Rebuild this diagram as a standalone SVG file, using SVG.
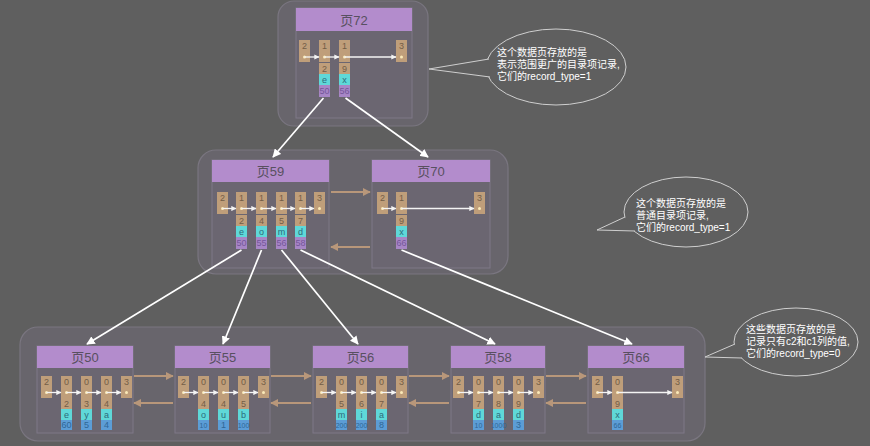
<svg xmlns="http://www.w3.org/2000/svg" width="870" height="446" viewBox="0 0 870 446">
<defs>
<style>
.grp{fill:#68656c;stroke:#7a7680;stroke-width:1.2}
.pg{fill:#6b6671;stroke:#7e7987;stroke-width:1}
.ttl{fill:#b38ccc}
.tt{font-family:"Liberation Sans","Noto Sans CJK SC",sans-serif;font-size:13px;fill:#585060;text-anchor:middle}
.t{fill:#bf9e7a}
.c{fill:#5fd8d8}
.p{fill:#a786c6}
.b{fill:#5c9dd6}
.ct{font-family:"Liberation Sans",sans-serif;font-size:9px;text-anchor:middle}
.tn{fill:#735d47}
.cn{fill:#2c6b7a}
.pn{fill:#74579a}
.bn{fill:#2f6796}
.sm{font-size:7px}
.dot{fill:#fbe9b8}
.ia{stroke:#f4f4f4;stroke-width:1.3;fill:none;marker-end:url(#ia)}
.wa{stroke:#ffffff;stroke-width:1.7;fill:none;marker-end:url(#wa)}
.ta{stroke:#b8977a;stroke-width:2;fill:none;marker-end:url(#ta)}
.bub{fill:#5f5f5f;stroke:#cfcfcf;stroke-width:1}
.bt{font-family:"Liberation Sans","Noto Sans CJK SC",sans-serif;font-size:10px;fill:#ffffff}
</style>
<marker id="ia" viewBox="0 0 10 10" refX="9" refY="5" markerWidth="4" markerHeight="4" orient="auto" markerUnits="strokeWidth"><path d="M0,0 L10,5 L0,10 z" fill="#f4f4f4"/></marker>
<marker id="wa" viewBox="0 0 10 10" refX="9" refY="5" markerWidth="5" markerHeight="5" orient="auto" markerUnits="strokeWidth"><path d="M0,0 L10,5 L0,10 z" fill="#ffffff"/></marker>
<marker id="ta" viewBox="0 0 10 10" refX="9" refY="5" markerWidth="4" markerHeight="4" orient="auto" markerUnits="strokeWidth"><path d="M0,0 L10,5 L0,10 z" fill="#b8977a"/></marker>
</defs>
<rect x="0" y="0" width="870" height="446" fill="#5f5f5f"/>

<rect class="grp" x="278" y="1" width="150" height="125" rx="16"/>
<rect class="grp" x="198" y="150" width="310" height="124" rx="18"/>
<rect class="grp" x="20" y="327" width="685" height="114" rx="18"/>

<g id="page72">
<rect class="pg" x="296" y="8" width="116" height="110"/>
<rect class="ttl" x="296" y="8" width="116" height="23"/>
<text class="tt" x="354" y="24.5">页72</text>
<rect class="t" x="299" y="40" width="11" height="22"/><text class="ct tn" x="304.5" y="48.5">2</text><circle class="dot" cx="304.5" cy="57" r="1.5"/>
<rect class="t" x="319" y="40" width="11" height="22"/><text class="ct tn" x="324.5" y="48.5">1</text><circle class="dot" cx="324.5" cy="57" r="1.5"/>
<rect class="t" x="319" y="63" width="11" height="11"/><text class="ct tn" x="324.5" y="72">2</text>
<rect class="c" x="319" y="74" width="11" height="11"/><text class="ct cn" x="324.5" y="83">e</text>
<rect class="p" x="319" y="85" width="11" height="12"/><text class="ct pn" x="324.5" y="94">50</text>
<rect class="t" x="339" y="40" width="11" height="22"/><text class="ct tn" x="344.5" y="48.5">1</text><circle class="dot" cx="344.5" cy="57" r="1.5"/>
<rect class="t" x="339" y="63" width="11" height="11"/><text class="ct tn" x="344.5" y="72">9</text>
<rect class="c" x="339" y="74" width="11" height="11"/><text class="ct cn" x="344.5" y="83">x</text>
<rect class="p" x="339" y="85" width="11" height="12"/><text class="ct pn" x="344.5" y="94">56</text>
<rect class="t" x="396" y="40" width="11" height="22"/><text class="ct tn" x="401.5" y="48.5">3</text><circle class="dot" cx="401.5" cy="57" r="1.5"/>
<path class="ia" d="M304.5,57 H319"/><path class="ia" d="M324.5,57 H339"/><path class="ia" d="M344.5,57 H396"/>
</g>

<g id="page59">
<rect class="pg" x="212" y="160" width="117" height="108"/>
<rect class="ttl" x="212" y="160" width="117" height="22"/>
<text class="tt" x="270.5" y="176">页59</text>
<rect class="t" x="217" y="192" width="11" height="22"/><text class="ct tn" x="222.5" y="200.5">2</text><circle class="dot" cx="222.5" cy="208.5" r="1.5"/>
<rect class="t" x="236" y="192" width="11" height="22"/><text class="ct tn" x="241.5" y="200.5">1</text><circle class="dot" cx="241.5" cy="208.5" r="1.5"/>
<rect class="t" x="236" y="215" width="11" height="11"/><text class="ct tn" x="241.5" y="223.5">2</text>
<rect class="c" x="236" y="226" width="11" height="11"/><text class="ct cn" x="241.5" y="234.5">e</text>
<rect class="p" x="236" y="237" width="11" height="12"/><text class="ct pn" x="241.5" y="246">50</text>
<rect class="t" x="256" y="192" width="11" height="22"/><text class="ct tn" x="261.5" y="200.5">1</text><circle class="dot" cx="261.5" cy="208.5" r="1.5"/>
<rect class="t" x="256" y="215" width="11" height="11"/><text class="ct tn" x="261.5" y="223.5">4</text>
<rect class="c" x="256" y="226" width="11" height="11"/><text class="ct cn" x="261.5" y="234.5">o</text>
<rect class="p" x="256" y="237" width="11" height="12"/><text class="ct pn" x="261.5" y="246">55</text>
<rect class="t" x="276" y="192" width="11" height="22"/><text class="ct tn" x="281.5" y="200.5">1</text><circle class="dot" cx="281.5" cy="208.5" r="1.5"/>
<rect class="t" x="276" y="215" width="11" height="11"/><text class="ct tn" x="281.5" y="223.5">5</text>
<rect class="c" x="276" y="226" width="11" height="11"/><text class="ct cn" x="281.5" y="234.5">m</text>
<rect class="p" x="276" y="237" width="11" height="12"/><text class="ct pn" x="281.5" y="246">56</text>
<rect class="t" x="295" y="192" width="11" height="22"/><text class="ct tn" x="300.5" y="200.5">1</text><circle class="dot" cx="300.5" cy="208.5" r="1.5"/>
<rect class="t" x="295" y="215" width="11" height="11"/><text class="ct tn" x="300.5" y="223.5">7</text>
<rect class="c" x="295" y="226" width="11" height="11"/><text class="ct cn" x="300.5" y="234.5">d</text>
<rect class="p" x="295" y="237" width="11" height="12"/><text class="ct pn" x="300.5" y="246">58</text>
<rect class="t" x="314" y="192" width="11" height="22"/><text class="ct tn" x="319.5" y="200.5">3</text><circle class="dot" cx="319.5" cy="208.5" r="1.5"/>
<path class="ia" d="M222.5,208.5 H236"/><path class="ia" d="M241.5,208.5 H256"/><path class="ia" d="M261.5,208.5 H276"/><path class="ia" d="M281.5,208.5 H295"/><path class="ia" d="M300.5,208.5 H314"/>
</g>

<g id="page70">
<rect class="pg" x="372" y="160" width="118" height="108"/>
<rect class="ttl" x="372" y="160" width="118" height="22"/>
<text class="tt" x="431" y="176">页70</text>
<rect class="t" x="377" y="192" width="11" height="22"/><text class="ct tn" x="382.5" y="200.5">2</text><circle class="dot" cx="382.5" cy="208.5" r="1.5"/>
<rect class="t" x="396" y="192" width="11" height="22"/><text class="ct tn" x="401.5" y="200.5">1</text><circle class="dot" cx="401.5" cy="208.5" r="1.5"/>
<rect class="t" x="396" y="215" width="11" height="11"/><text class="ct tn" x="401.5" y="223.5">9</text>
<rect class="c" x="396" y="226" width="11" height="11"/><text class="ct cn" x="401.5" y="234.5">x</text>
<rect class="p" x="396" y="237" width="11" height="12"/><text class="ct pn" x="401.5" y="246">66</text>
<rect class="t" x="474" y="192" width="11" height="22"/><text class="ct tn" x="479.5" y="200.5">3</text><circle class="dot" cx="479.5" cy="208.5" r="1.5"/>
<path class="ia" d="M382.5,208.5 H396"/><path class="ia" d="M401.5,208.5 H474"/>
</g>

<g id="page50">
<rect class="pg" x="37" y="346" width="96" height="87"/>
<rect class="ttl" x="37" y="346" width="96" height="22"/>
<text class="tt" x="85" y="362">页50</text>
<rect class="t" x="41" y="376" width="11" height="22"/><text class="ct tn" x="46.5" y="384.5">2</text><circle class="dot" cx="46.5" cy="392.5" r="1.5"/>
<rect class="t" x="61" y="376" width="11" height="22"/><text class="ct tn" x="66.5" y="384.5">0</text><circle class="dot" cx="66.5" cy="392.5" r="1.5"/>
<rect class="t" x="61" y="398" width="11" height="11"/><text class="ct tn" x="66.5" y="406.5">2</text>
<rect class="c" x="61" y="409" width="11" height="11"/><text class="ct cn" x="66.5" y="417.5">e</text>
<rect class="b" x="61" y="420" width="11" height="10"/><text class="ct bn" x="66.5" y="428">60</text>
<rect class="t" x="81" y="376" width="11" height="22"/><text class="ct tn" x="86.5" y="384.5">0</text><circle class="dot" cx="86.5" cy="392.5" r="1.5"/>
<rect class="t" x="81" y="398" width="11" height="11"/><text class="ct tn" x="86.5" y="406.5">3</text>
<rect class="c" x="81" y="409" width="11" height="11"/><text class="ct cn" x="86.5" y="417.5">y</text>
<rect class="b" x="81" y="420" width="11" height="10"/><text class="ct bn" x="86.5" y="428">5</text>
<rect class="t" x="101" y="376" width="11" height="22"/><text class="ct tn" x="106.5" y="384.5">0</text><circle class="dot" cx="106.5" cy="392.5" r="1.5"/>
<rect class="t" x="101" y="398" width="11" height="11"/><text class="ct tn" x="106.5" y="406.5">4</text>
<rect class="c" x="101" y="409" width="11" height="11"/><text class="ct cn" x="106.5" y="417.5">a</text>
<rect class="b" x="101" y="420" width="11" height="10"/><text class="ct bn" x="106.5" y="428">4</text>
<rect class="t" x="121" y="376" width="11" height="22"/><text class="ct tn" x="126.5" y="384.5">3</text><circle class="dot" cx="126.5" cy="392.5" r="1.5"/>
<path class="ia" d="M46.5,392.5 H61"/><path class="ia" d="M66.5,392.5 H81"/><path class="ia" d="M86.5,392.5 H101"/><path class="ia" d="M106.5,392.5 H121"/>
</g>

<g id="page55">
<rect class="pg" x="175" y="346" width="95" height="87"/>
<rect class="ttl" x="175" y="346" width="95" height="22"/>
<text class="tt" x="222.5" y="362">页55</text>
<rect class="t" x="178" y="376" width="11" height="22"/><text class="ct tn" x="183.5" y="384.5">2</text><circle class="dot" cx="183.5" cy="392.5" r="1.5"/>
<rect class="t" x="198" y="376" width="11" height="22"/><text class="ct tn" x="203.5" y="384.5">0</text><circle class="dot" cx="203.5" cy="392.5" r="1.5"/>
<rect class="t" x="198" y="398" width="11" height="11"/><text class="ct tn" x="203.5" y="406.5">4</text>
<rect class="c" x="198" y="409" width="11" height="11"/><text class="ct cn" x="203.5" y="417.5">o</text>
<rect class="b" x="198" y="420" width="11" height="10"/><text class="ct bn sm" x="203.5" y="427.5">10</text>
<rect class="t" x="218" y="376" width="11" height="22"/><text class="ct tn" x="223.5" y="384.5">0</text><circle class="dot" cx="223.5" cy="392.5" r="1.5"/>
<rect class="t" x="218" y="398" width="11" height="11"/><text class="ct tn" x="223.5" y="406.5">4</text>
<rect class="c" x="218" y="409" width="11" height="11"/><text class="ct cn" x="223.5" y="417.5">u</text>
<rect class="b" x="218" y="420" width="11" height="10"/><text class="ct bn" x="223.5" y="428">1</text>
<rect class="t" x="238" y="376" width="11" height="22"/><text class="ct tn" x="243.5" y="384.5">0</text><circle class="dot" cx="243.5" cy="392.5" r="1.5"/>
<rect class="t" x="238" y="398" width="11" height="11"/><text class="ct tn" x="243.5" y="406.5">5</text>
<rect class="c" x="238" y="409" width="11" height="11"/><text class="ct cn" x="243.5" y="417.5">b</text>
<rect class="b" x="238" y="420" width="11" height="10"/><text class="ct bn sm" x="243.5" y="427.5">100</text>
<rect class="t" x="258" y="376" width="11" height="22"/><text class="ct tn" x="263.5" y="384.5">3</text><circle class="dot" cx="263.5" cy="392.5" r="1.5"/>
<path class="ia" d="M183.5,392.5 H198"/><path class="ia" d="M203.5,392.5 H218"/><path class="ia" d="M223.5,392.5 H238"/><path class="ia" d="M243.5,392.5 H258"/>
</g>

<g id="page56">
<rect class="pg" x="313" y="346" width="95" height="87"/>
<rect class="ttl" x="313" y="346" width="95" height="22"/>
<text class="tt" x="360.5" y="362">页56</text>
<rect class="t" x="316" y="376" width="11" height="22"/><text class="ct tn" x="321.5" y="384.5">2</text><circle class="dot" cx="321.5" cy="392.5" r="1.5"/>
<rect class="t" x="336" y="376" width="11" height="22"/><text class="ct tn" x="341.5" y="384.5">0</text><circle class="dot" cx="341.5" cy="392.5" r="1.5"/>
<rect class="t" x="336" y="398" width="11" height="11"/><text class="ct tn" x="341.5" y="406.5">5</text>
<rect class="c" x="336" y="409" width="11" height="11"/><text class="ct cn" x="341.5" y="417.5">m</text>
<rect class="b" x="336" y="420" width="11" height="10"/><text class="ct bn sm" x="341.5" y="427.5">200</text>
<rect class="t" x="356" y="376" width="11" height="22"/><text class="ct tn" x="361.5" y="384.5">0</text><circle class="dot" cx="361.5" cy="392.5" r="1.5"/>
<rect class="t" x="356" y="398" width="11" height="11"/><text class="ct tn" x="361.5" y="406.5">6</text>
<rect class="c" x="356" y="409" width="11" height="11"/><text class="ct cn" x="361.5" y="417.5">i</text>
<rect class="b" x="356" y="420" width="11" height="10"/><text class="ct bn sm" x="361.5" y="427.5">200</text>
<rect class="t" x="376" y="376" width="11" height="22"/><text class="ct tn" x="381.5" y="384.5">0</text><circle class="dot" cx="381.5" cy="392.5" r="1.5"/>
<rect class="t" x="376" y="398" width="11" height="11"/><text class="ct tn" x="381.5" y="406.5">7</text>
<rect class="c" x="376" y="409" width="11" height="11"/><text class="ct cn" x="381.5" y="417.5">a</text>
<rect class="b" x="376" y="420" width="11" height="10"/><text class="ct bn" x="381.5" y="428">8</text>
<rect class="t" x="396" y="376" width="11" height="22"/><text class="ct tn" x="401.5" y="384.5">3</text><circle class="dot" cx="401.5" cy="392.5" r="1.5"/>
<path class="ia" d="M321.5,392.5 H336"/><path class="ia" d="M341.5,392.5 H356"/><path class="ia" d="M361.5,392.5 H376"/><path class="ia" d="M381.5,392.5 H396"/>
</g>

<g id="page58">
<rect class="pg" x="451" y="346" width="94" height="87"/>
<rect class="ttl" x="451" y="346" width="94" height="22"/>
<text class="tt" x="498" y="362">页58</text>
<rect class="t" x="453" y="376" width="11" height="22"/><text class="ct tn" x="458.5" y="384.5">2</text><circle class="dot" cx="458.5" cy="392.5" r="1.5"/>
<rect class="t" x="473" y="376" width="11" height="22"/><text class="ct tn" x="478.5" y="384.5">0</text><circle class="dot" cx="478.5" cy="392.5" r="1.5"/>
<rect class="t" x="473" y="398" width="11" height="11"/><text class="ct tn" x="478.5" y="406.5">7</text>
<rect class="c" x="473" y="409" width="11" height="11"/><text class="ct cn" x="478.5" y="417.5">d</text>
<rect class="b" x="473" y="420" width="11" height="10"/><text class="ct bn sm" x="478.5" y="427.5">10</text>
<rect class="t" x="493" y="376" width="11" height="22"/><text class="ct tn" x="498.5" y="384.5">0</text><circle class="dot" cx="498.5" cy="392.5" r="1.5"/>
<rect class="t" x="493" y="398" width="11" height="11"/><text class="ct tn" x="498.5" y="406.5">8</text>
<rect class="c" x="493" y="409" width="11" height="11"/><text class="ct cn" x="498.5" y="417.5">a</text>
<rect class="b" x="493" y="420" width="11" height="10"/><text class="ct bn sm" x="498.5" y="427.5">1000</text>
<rect class="t" x="513" y="376" width="11" height="22"/><text class="ct tn" x="518.5" y="384.5">0</text><circle class="dot" cx="518.5" cy="392.5" r="1.5"/>
<rect class="t" x="513" y="398" width="11" height="11"/><text class="ct tn" x="518.5" y="406.5">9</text>
<rect class="c" x="513" y="409" width="11" height="11"/><text class="ct cn" x="518.5" y="417.5">d</text>
<rect class="b" x="513" y="420" width="11" height="10"/><text class="ct bn" x="518.5" y="428">3</text>
<rect class="t" x="533" y="376" width="11" height="22"/><text class="ct tn" x="538.5" y="384.5">3</text><circle class="dot" cx="538.5" cy="392.5" r="1.5"/>
<path class="ia" d="M458.5,392.5 H473"/><path class="ia" d="M478.5,392.5 H493"/><path class="ia" d="M498.5,392.5 H513"/><path class="ia" d="M518.5,392.5 H533"/>
</g>

<g id="page66">
<rect class="pg" x="588" y="346" width="96" height="87"/>
<rect class="ttl" x="588" y="346" width="96" height="22"/>
<text class="tt" x="636" y="362">页66</text>
<rect class="t" x="592" y="376" width="11" height="22"/><text class="ct tn" x="597.5" y="384.5">2</text><circle class="dot" cx="597.5" cy="392.5" r="1.5"/>
<rect class="t" x="612" y="376" width="11" height="22"/><text class="ct tn" x="617.5" y="384.5">0</text><circle class="dot" cx="617.5" cy="392.5" r="1.5"/>
<rect class="t" x="612" y="398" width="11" height="11"/><text class="ct tn" x="617.5" y="406.5">9</text>
<rect class="c" x="612" y="409" width="11" height="11"/><text class="ct cn" x="617.5" y="417.5">x</text>
<rect class="b" x="612" y="420" width="11" height="10"/><text class="ct bn sm" x="617.5" y="427.5">66</text>
<rect class="t" x="672" y="376" width="11" height="22"/><text class="ct tn" x="677.5" y="384.5">3</text><circle class="dot" cx="677.5" cy="392.5" r="1.5"/>
<path class="ia" d="M597.5,392.5 H612"/><path class="ia" d="M617.5,392.5 H672"/>
</g>

<g id="connectors">
<path class="wa" d="M323.5,98 L273,157"/>
<path class="wa" d="M345.5,98 L428,157"/>
<path class="wa" d="M241.5,250 L87,344"/>
<path class="wa" d="M261.5,250 L223,344"/>
<path class="wa" d="M281.5,250 L358,344"/>
<path class="wa" d="M300.5,250 L495,344"/>
<path class="wa" d="M401.5,250 L632,344"/>
<path class="ta" d="M331,192 H370"/>
<path class="ta" d="M370,247 H331"/>
<path class="ta" d="M134,376 H173"/>
<path class="ta" d="M173,403 H134"/>
<path class="ta" d="M271,376 H311"/>
<path class="ta" d="M311,403 H271"/>
<path class="ta" d="M409,376 H449"/>
<path class="ta" d="M449,403 H409"/>
<path class="ta" d="M546,376 H586"/>
<path class="ta" d="M586,403 H546"/>
</g>

<g id="callout1">
<ellipse class="bub" cx="556" cy="67" rx="70" ry="38"/>
<path class="bub" d="M489,59 L429,69 L490,77"/>
<text class="bt" x="497" y="56">这个数据页存放的是</text>
<text class="bt" x="497" y="68">表示范围更广的目录项记录,</text>
<text class="bt" x="497" y="80">它们的record_type=1</text>
</g>
<g id="callout2">
<ellipse class="bub" cx="686" cy="212" rx="62" ry="35"/>
<path class="bub" d="M625,217 L597,230 L635,231"/>
<text class="bt" x="636" y="207">这个数据页存放的是</text>
<text class="bt" x="636" y="219">普通目录项记录,</text>
<text class="bt" x="636" y="231">它们的record_type=1</text>
</g>
<g id="callout3">
<ellipse class="bub" cx="796" cy="342" rx="62" ry="34"/>
<path class="bub" d="M735,344 L705,357 L742,358"/>
<text class="bt" x="746" y="333">这些数据页存放的是</text>
<text class="bt" x="746" y="345">记录只有c2和c1列的值,</text>
<text class="bt" x="746" y="357">它们的record_type=0</text>
</g>
</svg>
